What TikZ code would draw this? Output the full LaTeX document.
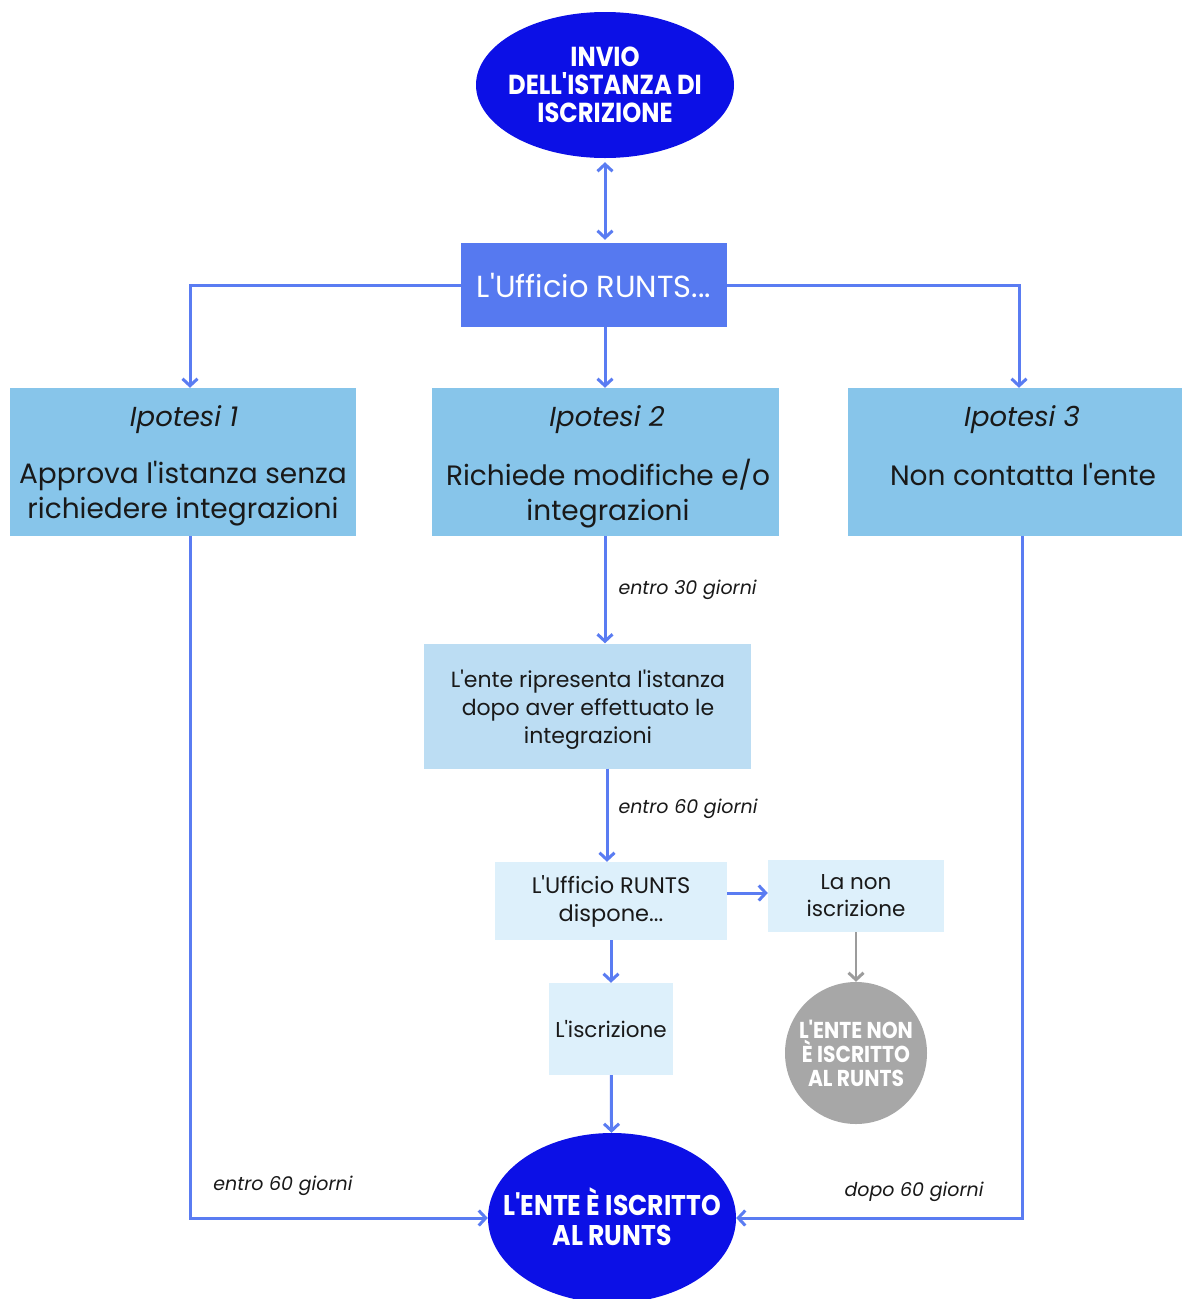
\documentclass[tikz,border=0pt]{standalone}
\usepackage{fontspec}
\setmainfont{Poppins}[Ligatures=TeXOff]
\newfontfamily\headfont{Poppins}[FakeStretch=0.88,Ligatures=TeXOff]
\usetikzlibrary{arrows.meta,shapes.geometric}
\definecolor{deepblue}{HTML}{0C10E6}
\definecolor{runtsblue}{HTML}{5679F0}
\definecolor{ipoblue}{HTML}{87C5EA}
\definecolor{midblue}{HTML}{BCDDF3}
\definecolor{paleblue}{HTML}{DDF0FB}
\definecolor{arrowblue}{HTML}{5A7CF2}
\definecolor{greycirc}{HTML}{A7A7A7}
\definecolor{greyarrow}{HTML}{9C9C9C}

\begin{document}
\begin{tikzpicture}[x=1pt,y=-1pt,
		every node/.style={inner sep=0pt,align=center,text=black!90},
		bigoval/.style={ellipse,fill=deepblue},
		headtext/.style={text=white,font=\headfont\bfseries\fontsize{27.5}{28}\selectfont},
		runtsbox/.style={rectangle,fill=runtsblue,minimum width=266pt,minimum height=84pt,text=white,font=\fontsize{30.5}{34}\selectfont},
		ipobox/.style={rectangle,fill=ipoblue,minimum height=148pt},
		ipotitle/.style={font=\itshape\fontsize{27.5}{34}\selectfont},
		ipotext/.style={font=\fontsize{28}{35}\selectfont},
		stepbox/.style={rectangle,fill=paleblue,font=\fontsize{21.5}{27}\selectfont},
		daylabel/.style={font=\itshape\fontsize{19}{22}\selectfont},
		link/.style={draw=arrowblue,line width=3pt,-{Straight Barb[length=7pt,width=15pt,line width=3pt]}},
		dlink/.style={link,{Straight Barb[length=7pt,width=15pt,line width=3pt]}-{Straight Barb[length=7pt,width=15pt,line width=3pt]}}
		]
		\clip (0,0) rectangle (1182,1299);
		\fill[white] (0,0) rectangle (1182,1299);

		\node[bigoval,minimum width=258pt,minimum height=146pt] (invio) at (605,85) {};
		\node[headtext] (inviotext) at (605,85) {INVIO\\DELL'ISTANZA DI\\ISCRIZIONE};
		\node[runtsbox] (ufficio) at (594,285) {L'Ufficio RUNTS...};

		\node[ipobox,minimum width=346pt] (ipo1) at (183,462) {};
		\node[ipobox,minimum width=347pt] (ipo2) at (605,462) {};
		\node[ipobox,minimum width=335pt] (ipo3) at (1015,462) {};
		\node[ipotitle] (ipo1title) at (184,420) {Ipotesi 1};
		\node[ipotitle] (ipo2title) at (607,420) {Ipotesi 2};
		\node[ipotitle] (ipo3title) at (1022,420) {Ipotesi 3};
		\node[ipotext] (ipo1text) at (183,494) {Approva l'istanza senza\\richiedere integrazioni};
		\node[ipotext] (ipo2text) at (608,494) {Richiede modifiche e/o\\integrazioni};
		\node[ipotext] (ipo3text) at (1023,474) {Non contatta l'ente};

		\node[rectangle,fill=midblue,minimum width=327pt,minimum height=125pt] (ripresenta) at (587,706) {};
		\node[font=\fontsize{22}{28}\selectfont] (ripresentatext) at (588,710) {L'ente ripresenta l'istanza\\dopo aver effettuato le\\integrazioni};
		\node[stepbox,minimum width=232pt,minimum height=78pt,font=\fontsize{22.5}{28}\selectfont] (dispone) at (611,901) {L'Ufficio RUNTS\\dispone...};
		\node[stepbox,minimum width=176pt,minimum height=72pt] (nonisc) at (856,896) {La non\\iscrizione};
		\node[stepbox,minimum width=124pt,minimum height=92pt] (iscrizione) at (611,1029) {L'iscrizione};
		\node[circle,fill=greycirc,minimum size=142pt] (nonente) at (856,1053) {};
		\node[headtext,font=\headfont\bfseries\fontsize{23}{24}\selectfont] (nonentetext) at (856,1053) {L'ENTE NON\\È ISCRITTO\\AL RUNTS};
		\node[bigoval,minimum width=248pt,minimum height=170pt] (iscritto) at (612,1218) {};
		\node[headtext,font=\headfont\bfseries\fontsize{28.5}{30}\selectfont] (iscrittotext) at (612,1217) {L'ENTE È ISCRITTO\\AL RUNTS};

		\draw[dlink,shorten <=4pt,shorten >=3pt] (invio) -- (ufficio.north -| invio);
		\draw[link] (ufficio.west) -| ([xshift=7pt]ipo1.north);
		\draw[link] (ufficio.east) -| ([xshift=4pt]ipo3.north);
		\draw[link] (ufficio.south -| ipo2.north) -- (ipo2.north);
		\draw[link] ([xshift=7pt]ipo1.south) |- node[daylabel,above,pos=0.656,yshift=21pt] (lab1) {entro 60 giorni} (iscritto.west);
		\draw[link] ([xshift=7pt]ipo3.south) |- node[daylabel,above,pos=0.689,yshift=15pt] (lab3) {dopo 60 giorni} (iscritto.east);
		\draw[link] (ipo2.south) -- node[daylabel,right=12pt,pos=0.5] (lab30) {entro 30 giorni} (ipo2.south |- ripresenta.north);
		\draw[link] (ripresenta.south -| 607,0) -- node[daylabel,right=10pt,pos=0.43] (lab60) {entro 60 giorni} (dispone.north -| 607,0);
		\draw[link] ([yshift=8pt]dispone.east) -- ([yshift=8pt]dispone.east -| nonisc.west);
		\draw[link,draw=greyarrow,line width=2.5pt] (nonisc) -- (nonente);
		\draw[link] (dispone) -- (iscrizione);
		\draw[link] (iscrizione) -- (iscritto);
	\end{tikzpicture}
\end{document}
